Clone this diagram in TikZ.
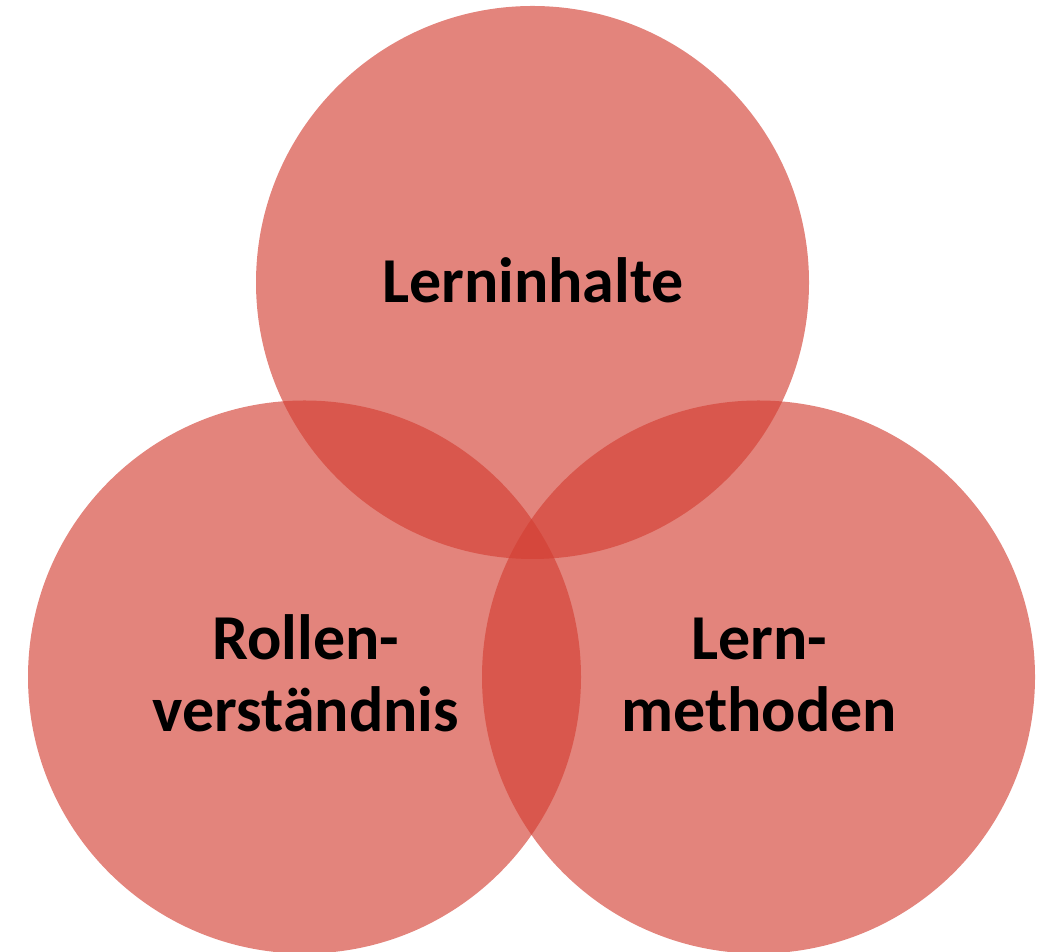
\documentclass[tikz,border=0pt]{standalone}
\usepackage{fontspec}
\setmainfont{Carlito}
\definecolor{vennred}{RGB}{211,62,50}
\begin{document}
\begin{tikzpicture}[x=1pt,y=1pt,
  venn/.style={circle, fill=vennred, fill opacity=0.64, draw=none, minimum size=553pt, inner sep=0pt},
  lbl/.style={font=\fontsize{64}{72}\selectfont\bfseries, text=black, align=center, inner sep=0pt}]
\useasboundingbox (0,0) rectangle (1043,952);
\clip (0,0) rectangle (1043,952);
\node[venn] (top) at (532.5,669.5) {};
\node[venn] (left) at (304.5,275) {};
\node[venn] (right) at (758.5,275) {};
\node[lbl, anchor=base] (t1) at (533,649) {Lerninhalte};
\node[lbl, anchor=base] (t2) at (306,220) {Rollen-\\verständnis};
\node[lbl, anchor=base] (t3) at (759,220) {Lern-\\methoden};
\end{tikzpicture}
\end{document}
